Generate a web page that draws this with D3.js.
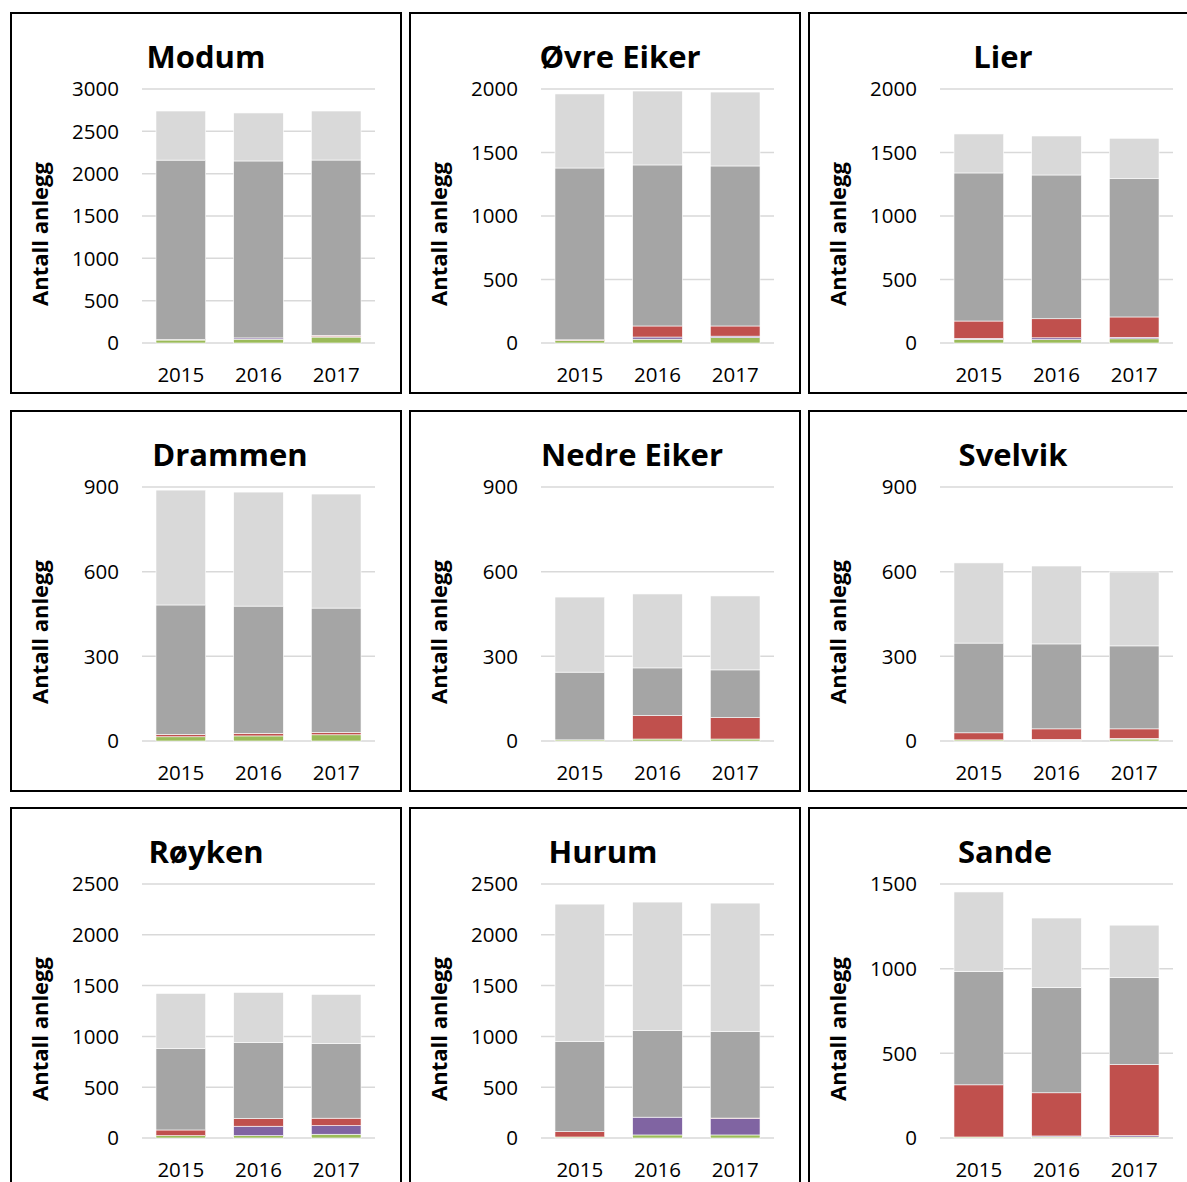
<!DOCTYPE html>
<html>
<head>
<meta charset="utf-8">
<script src="https://cdn.jsdelivr.net/npm/d3@7"></script>
<style>
  body { margin: 0; background: #fff; }
  svg text { font-family: "Open Sans", "Liberation Sans", sans-serif; fill: #000; }
</style>
</head>
<body>
<svg id="chart" width="1187" height="1182"></svg>
<script>
var years = ['2015', '2016', '2017'];
var kommuner = ['Modum', 'Øvre Eiker', 'Lier', 'Drammen', 'Nedre Eiker', 'Svelvik', 'Røyken', 'Hurum', 'Sande'];
var yMax = [3000, 2000, 2000, 900, 900, 900, 2500, 2500, 1500];
var yStep = [500, 500, 500, 300, 300, 300, 500, 500, 500];

// series, bottom to top, one row per kommune, one value per year
var green = [[35, 45, 70], [20, 30, 42], [29, 26, 33], [15, 18, 22], [4, 7, 7], [4, 3, 7], [23, 23, 37], [10, 30, 30], [6, 6, 6]];
var purple = [[0, 15, 5], [0, 17, 12], [8, 15, 12], [0, 0, 0], [0, 0, 0], [0, 3, 2], [0, 93, 85], [0, 175, 161], [0, 6, 8]];
var red = [[5, 0, 15], [5, 87, 80], [136, 150, 160], [8, 9, 8], [0, 83, 76], [25, 37, 34], [56, 75, 73], [52, 0, 5], [308, 255, 419]];
var darkGray = [[2120, 2090, 2071], [1353, 1268, 1260], [1166, 1132, 1092], [459, 451, 441], [240, 169, 169], [318, 301, 294], [800, 748, 734], [886, 852, 851], [670, 622, 516]];
var lightGray = [[580, 567, 579], [583, 582, 582], [307, 307, 315], [407, 404, 404], [266, 262, 262], [284, 276, 262], [544, 494, 484], [1354, 1265, 1265], [469, 410, 308]];

var seriesList = [green, purple, red, darkGray, lightGray];
var colors = ['#9BBB59', '#8064A2', '#C0504D', '#A5A5A5', '#D9D9D9'];

var colX = [10, 409, 808];
var rowY = [12, 410, 807];
var titleX = [196, 211, 195, 220, 223, 205, 196, 194, 197];

var svg = d3.select('#chart');

kommuner.forEach(function(name, k) {
    var px = colX[k % 3], py = rowY[Math.floor(k / 3)];
    var g = svg.append('g').attr('transform', 'translate(' + px + ',' + py + ')');

    g.append('rect')
        .attr('x', 1).attr('y', 1)
        .attr('width', 390).attr('height', 380)
        .attr('fill', 'none').attr('stroke', '#000').attr('stroke-width', 2);

    var left = 132, right = 365, top = 77, bottom = 331;
    var x = d3.scaleBand().domain(years).range([left, right]).paddingInner(0.36).paddingOuter(0.18);
    var y = d3.scaleLinear().domain([0, yMax[k]]).range([bottom, top]);
    var ticks = d3.range(0, yMax[k] + 1, yStep[k]);

    g.selectAll('.grid').data(ticks).enter().append('line')
        .attr('x1', left).attr('x2', right)
        .attr('y1', function(d) { return y(d); })
        .attr('y2', function(d) { return y(d); })
        .attr('stroke', '#D9D9D9').attr('stroke-width', 1.5);

    g.selectAll('.tick').data(ticks).enter().append('text')
        .attr('x', left - 23)
        .attr('y', function(d) { return y(d); })
        .attr('dy', '0.36em')
        .attr('text-anchor', 'end')
        .style('font-size', '20.5px')
        .text(function(d) { return d; });

    // stack the series per year
    var rows = years.map(function(yr, i) {
        var r = { year: yr };
        seriesList.forEach(function(s, j) { r['s' + j] = s[k][i]; });
        return r;
    });
    var stack = d3.stack().keys(seriesList.map(function(s, j) { return 's' + j; }))(rows);

    g.selectAll('.layer').data(stack).enter().append('g')
        .attr('fill', function(d, j) { return colors[j]; })
        .selectAll('rect').data(function(d) { return d; }).enter().append('rect')
        .attr('x', function(d) { return x(d.data.year); })
        .attr('width', x.bandwidth())
        .attr('y', function(d) { return y(d[1]); })
        .attr('height', function(d) { return y(d[0]) - y(d[1]); })
        .attr('stroke', '#fff').attr('stroke-width', 0.6);

    g.selectAll('.xl').data(years).enter().append('text')
        .attr('x', function(d) { return x(d) + x.bandwidth() / 2; })
        .attr('y', bottom + 39)
        .attr('text-anchor', 'middle')
        .style('font-size', '20.5px')
        .text(function(d) { return d; });

    g.append('text')
        .attr('transform', 'translate(38,222) rotate(-90)')
        .attr('text-anchor', 'middle')
        .style('font-size', '22px').style('font-weight', 'bold')
        .text('Antall anlegg');

    g.append('text')
        .attr('x', titleX[k]).attr('y', 56)
        .attr('text-anchor', 'middle')
        .style('font-size', '31px').style('font-weight', 'bold')
        .text(name);
});
</script>
</body>
</html>
